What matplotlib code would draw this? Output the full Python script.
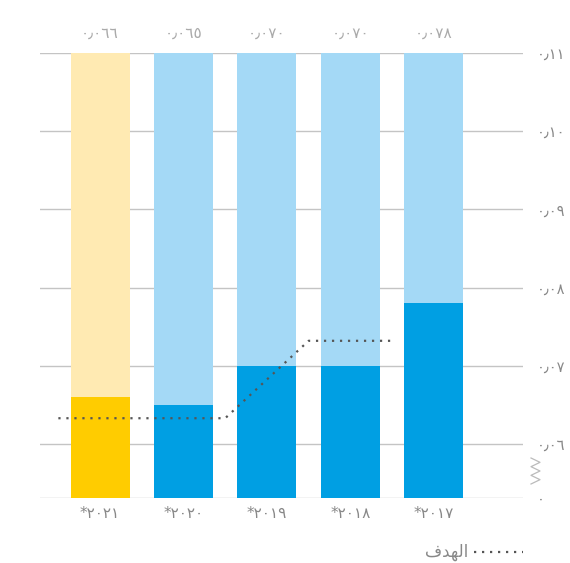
import numpy as np
import matplotlib.pyplot as plt
import matplotlib.lines as mlines

plt.rcParams['font.family'] = ['DejaVu Sans', 'Noto Sans']

# data (left to right as drawn, right-to-left reading order)
years = ['*٢٠٢١', '*٢٠٢٠', '*٢٠١٩', '*٢٠١٨', '*٢٠١٧']
values = [0.066, 0.065, 0.070, 0.070, 0.078]
value_labels = ['٠٫٠٦٦', '٠٫٠٦٥', '٠٫٠٧٠', '٠٫٠٧٠', '٠٫٠٧٨']
target_x = [-0.5, 1.5, 2.5, 3.5]
target_y = [0.0633, 0.0633, 0.0732, 0.0732]
yticks = [0.06, 0.07, 0.08, 0.09, 0.10, 0.11]
ytick_labels = ['٠٫٠٦', '٠٫٠٧', '٠٫٠٨', '٠٫٠٩', '٠٫١٠', '٠٫١١']
legend_label = '\ufed1\ufeaa\ufeec\ufedf\ufe8d'  # "الهدف" pre-shaped

y_zero = 0.0531   # where the broken axis puts 0
y_top = 0.11

light = ['#FFEAB2', '#A4D9F6', '#A4D9F6', '#A4D9F6', '#A4D9F6']
dark = ['#FFCC00', '#009FE3', '#009FE3', '#009FE3', '#009FE3']

fig = plt.figure(figsize=(5.7, 5.63), dpi=100)
ax = fig.add_axes([40 / 570, 1 - 498 / 563, 483 / 570, 445 / 563])

x = np.arange(len(years))
w = 0.707
ax.bar(x, [y_top - y_zero] * len(x), bottom=y_zero, width=w, color=light, zorder=2)
ax.bar(x, np.array(values) - y_zero, bottom=y_zero, width=w, color=dark, zorder=3)

ax.plot(target_x, target_y, ls=(0, (1, 2.6)), color='#555555', lw=1.6, zorder=4)

for xi, lab in zip(x, value_labels):
    ax.text(xi, y_top + 0.0016, lab, ha='center', va='bottom', color='#AAAAAA', fontsize=11)

ax.set_xlim(-0.72, 5.07)
ax.set_ylim(y_zero, y_top)

for yt in yticks + [y_zero]:
    ax.axhline(yt, color='#C4C4C4', lw=1, zorder=1)

ax.set_yticks(yticks + [y_zero])
ax.set_yticklabels(ytick_labels + ['٠'])
ax.yaxis.tick_right()
ax.tick_params(axis='y', length=0, pad=10, labelcolor='#888888', labelsize=10.5)
for t in ax.get_yticklabels():
    t.set_horizontalalignment('left')

ax.set_xticks(x)
ax.set_xticklabels(years)
ax.tick_params(axis='x', length=0, pad=6, labelcolor='#888888', labelsize=11)

for s in ax.spines.values():
    s.set_visible(False)

# axis break zigzag
zx = np.array([0, 1, 0, 1, 0, 1, 0]) * 9 + 531
zy = np.linspace(458, 484, 7)
fig.add_artist(mlines.Line2D(zx / 570, 1 - zy / 563, color='#BBBBBB', lw=0.9))

# legend
fig.add_artist(mlines.Line2D([474 / 570, 523 / 570], [1 - 552 / 563] * 2,
                             ls=(0, (1, 2.6)), color='#555555', lw=1.6))
fig.text(468 / 570, 1 - 552 / 563, legend_label, ha='right', va='center',
         color='#888888', fontsize=12)

fig.savefig('out.png', dpi=100)
